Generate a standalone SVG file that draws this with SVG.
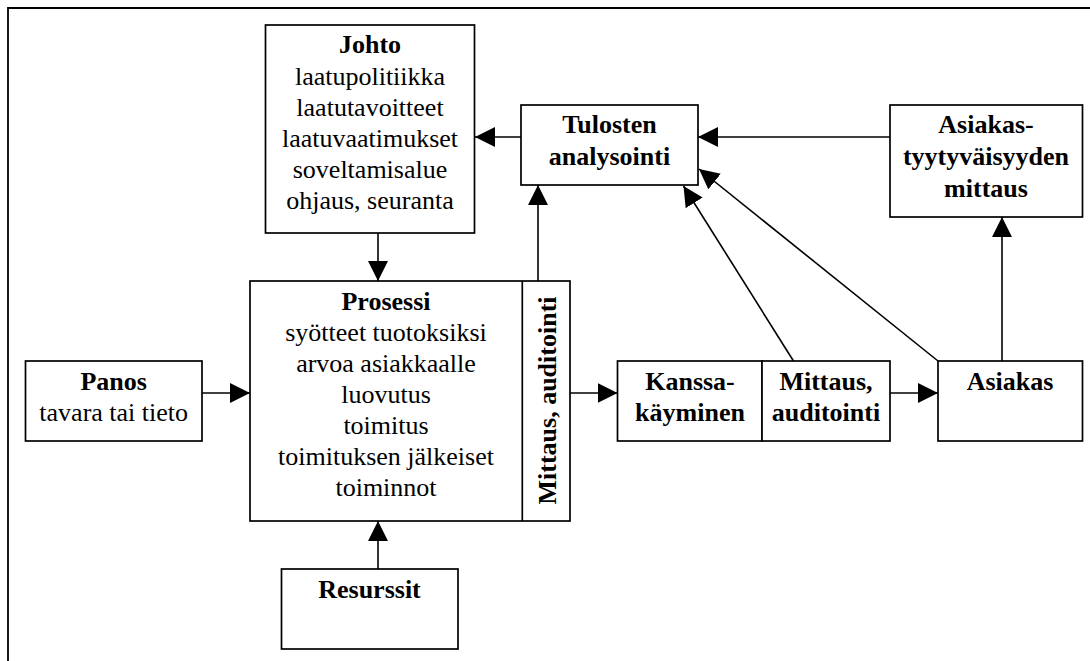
<svg xmlns="http://www.w3.org/2000/svg" width="1090" height="661" viewBox="0 0 1090 661">
<style>
.box{fill:#fff;stroke:#000;stroke-width:1.7}
.ln{fill:none;stroke:#000;stroke-width:1.6}
.b{font-weight:bold}
</style>
<defs>
<marker id="ah" markerUnits="userSpaceOnUse" markerWidth="20" markerHeight="20" viewBox="0 0 20 20" refX="20" refY="10" orient="auto">
<path d="M0,0 L20,10 L0,20 z" fill="#000"/>
</marker>
</defs>
<rect width="1090" height="661" fill="#fff"/>
<g id="frame">
<path d="M8,661 L8,8 L1090,8" fill="none" stroke="#000" stroke-width="1.8"/>
</g>
<g id="connectors">
<line class="ln" x1="521" y1="137" x2="475" y2="137" marker-end="url(#ah)"/>
<line class="ln" x1="890" y1="137" x2="698" y2="137" marker-end="url(#ah)"/>
<line class="ln" x1="378" y1="233" x2="378" y2="281" marker-end="url(#ah)"/>
<line class="ln" x1="538" y1="281" x2="538" y2="185" marker-end="url(#ah)"/>
<line class="ln" x1="202" y1="393" x2="250" y2="393" marker-end="url(#ah)"/>
<line class="ln" x1="570" y1="393" x2="617.5" y2="393" marker-end="url(#ah)"/>
<line class="ln" x1="890" y1="393" x2="938" y2="393" marker-end="url(#ah)"/>
<line class="ln" x1="378" y1="569" x2="378" y2="521" marker-end="url(#ah)"/>
<line class="ln" x1="1002" y1="361" x2="1002" y2="217" marker-end="url(#ah)"/>
<line class="ln" x1="793.5" y1="361" x2="683.5" y2="186" marker-end="url(#ah)"/>
<line class="ln" x1="938" y1="361" x2="699" y2="169" marker-end="url(#ah)"/>
</g>
<g font-family="'Liberation Serif', 'Times New Roman', serif" font-size="26" text-anchor="middle" fill="#000">
<g id="johto">
<rect class="box" x="265.5" y="25" width="209" height="208"/>
<text x="370" y="53" class="b">Johto</text>
<text x="370" y="85">laatupolitiikka</text>
<text x="370" y="116">laatutavoitteet</text>
<text x="370" y="147">laatuvaatimukset</text>
<text x="370" y="178">soveltamisalue</text>
<text x="370" y="209">ohjaus, seuranta</text>
</g>
<g id="tulosten">
<rect class="box" x="521" y="105" width="177" height="80"/>
<text x="609.5" y="133" class="b">Tulosten</text>
<text x="609.5" y="165" class="b">analysointi</text>
</g>
<g id="asiakastyytyvaisyys">
<rect class="box" x="890" y="105" width="192.5" height="112"/>
<text x="986" y="133" class="b">Asiakas-</text>
<text x="986" y="165" class="b">tyytyväisyyden</text>
<text x="986" y="197" class="b">mittaus</text>
</g>
<g id="prosessi">
<rect class="box" x="250" y="281" width="320" height="240"/>
<line x1="522.3" y1="281" x2="522.3" y2="521" stroke="#000" stroke-width="1.7"/>
<text x="386" y="310" class="b">Prosessi</text>
<text x="386" y="341">syötteet tuotoksiksi</text>
<text x="386" y="372">arvoa asiakkaalle</text>
<text x="386" y="403">luovutus</text>
<text x="386" y="434">toimitus</text>
<text x="386" y="465">toimituksen jälkeiset</text>
<text x="386" y="496">toiminnot</text>
<text class="b" transform="translate(556,400.5) rotate(-90)">Mittaus, auditointi</text>
</g>
<g id="panos">
<rect class="box" x="25.5" y="361" width="176.5" height="80"/>
<text x="113.7" y="390" class="b">Panos</text>
<text x="113.7" y="421">tavara tai tieto</text>
</g>
<g id="kanssakayminen">
<rect class="box" x="617.5" y="361" width="144.5" height="80"/>
<text x="690" y="390" class="b">Kanssa-</text>
<text x="690" y="421" class="b">käyminen</text>
</g>
<g id="mittaus">
<rect class="box" x="762" y="361" width="128" height="80"/>
<text x="826" y="390" class="b">Mittaus,</text>
<text x="826" y="421" class="b">auditointi</text>
</g>
<g id="asiakas">
<rect class="box" x="938" y="361" width="144.5" height="80"/>
<text x="1010" y="390" class="b">Asiakas</text>
</g>
<g id="resurssit">
<rect class="box" x="281.5" y="569" width="176.5" height="80"/>
<text x="369.5" y="598" class="b">Resurssit</text>
</g>
</g>
</svg>
